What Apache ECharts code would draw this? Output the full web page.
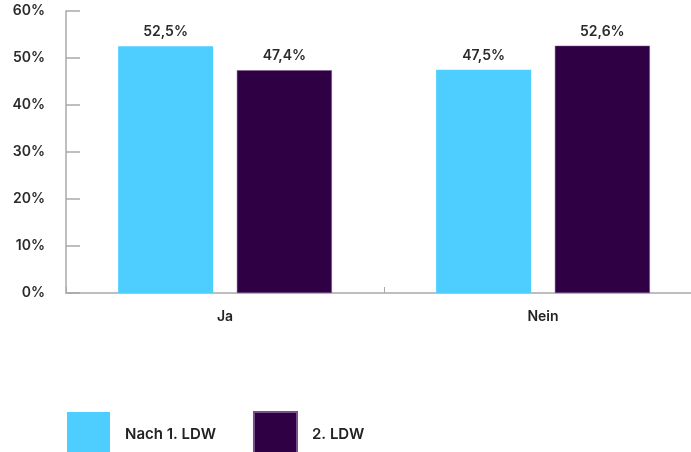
<!DOCTYPE html>
<html>
<head>
<meta charset="utf-8">
<script src="https://cdn.jsdelivr.net/npm/echarts@6/dist/echarts.min.js"></script>
<style>
html, body { margin: 0; padding: 0; background: #fff; }
#chart { width: 691px; height: 452px; }
</style>
</head>
<body>
<div id="chart"></div>
<script>
// Abstimmungsergebnis nach Landtagswahl-Durchgang
const categories = ['Ja', 'Nein'];
const seriesNames = ['Nach 1. LDW', '2. LDW'];
const nach1 = [52.5, 47.5];
const zweite = [47.4, 52.6];
const yTicks = [0, 10, 20, 30, 40, 50, 60];

const FONT = 'Inter, "Noto Sans", sans-serif';
const fmt = v => String(v.toFixed(1)).replace('.', ',') + '%';

const chart = echarts.init(document.getElementById('chart'), null, { renderer: 'canvas' });

chart.setOption({
  animation: false,
  textStyle: { fontFamily: FONT },
  grid: { left: 66, top: 11, width: 636, height: 282, containLabel: false, outerBoundsMode: 'none' },
  legend: {
    left: 67,
    top: 411,
    padding: 0,
    itemWidth: 43,
    itemHeight: 44,
    itemGap: 37,
    icon: 'rect',
    textStyle: { fontFamily: FONT, fontSize: 15, fontWeight: 600, color: '#222', padding: [3, 0, 0, 10] },
    data: seriesNames
  },
  xAxis: {
    type: 'category',
    data: categories,
    axisLine: { lineStyle: { color: '#a9a9a9', width: 1.5 } },
    axisTick: { show: true, inside: true, length: 6, lineStyle: { color: '#a9a9a9' } },
    axisLabel: { fontFamily: FONT, fontSize: 14, fontWeight: 600, color: '#222', margin: 17 }
  },
  yAxis: {
    type: 'value',
    min: yTicks[0],
    max: yTicks[yTicks.length - 1],
    interval: 10,
    splitLine: { show: false },
    axisLine: { show: true, lineStyle: { color: '#a9a9a9', width: 1.5 } },
    axisTick: { show: true, inside: true, length: 14, lineStyle: { color: '#a9a9a9', width: 1.5 } },
    axisLabel: {
      fontFamily: FONT, fontSize: 14, fontWeight: 600, color: '#2a2a2a', margin: 21,
      formatter: v => v + '%'
    }
  },
  series: [
    {
      name: seriesNames[0],
      type: 'bar',
      data: nach1,
      barWidth: 95,
      barGap: '25%',
      itemStyle: { color: '#4ECEFF' },
      label: {
        show: true, position: 'top', distance: 7,
        fontFamily: FONT, fontSize: 14, fontWeight: 600, color: '#2a2a2a',
        formatter: p => fmt(p.value)
      }
    },
    {
      name: seriesNames[1],
      type: 'bar',
      data: zweite,
      barWidth: 95,
      barGap: '25%',
      itemStyle: { color: '#300044', borderColor: '#7a4f8c', borderWidth: 0.5 },
      label: {
        show: true, position: 'top', distance: 7,
        fontFamily: FONT, fontSize: 14, fontWeight: 600, color: '#2a2a2a',
        formatter: p => fmt(p.value)
      }
    }
  ]
});
</script>
</body>
</html>
